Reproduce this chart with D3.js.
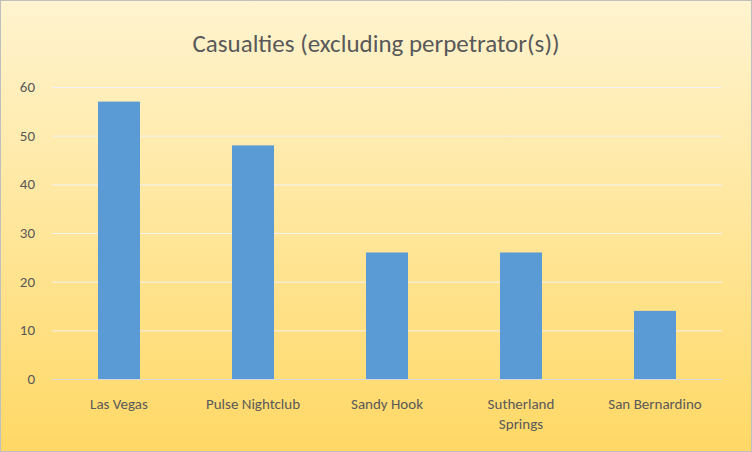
<!DOCTYPE html>
<html>
<head>
<meta charset="utf-8">
<script src="https://cdn.jsdelivr.net/npm/d3@7"></script>
<style>
body { margin: 0; }
svg { display: block; font-family: Carlito, "Liberation Sans", sans-serif; }
</style>
</head>
<body>
<svg id="chart" width="752" height="452"></svg>
<script>
var categories = ['Las Vegas', 'Pulse Nightclub', 'Sandy Hook', 'Sutherland Springs', 'San Bernardino'];
var casualties = [57, 48, 26, 26, 14];
var yTicks = [0, 10, 20, 30, 40, 50, 60];

var svg = d3.select('#chart');

var grad = svg.append('defs').append('linearGradient')
	.attr('id', 'bg').attr('x1', 0).attr('y1', 0).attr('x2', 0).attr('y2', 1);
grad.append('stop').attr('offset', '0%').attr('stop-color', '#FFF4D0');
grad.append('stop').attr('offset', '100%').attr('stop-color', '#FFD865');

svg.append('rect')
	.attr('x', 0.5).attr('y', 0.5).attr('width', 751).attr('height', 451)
	.attr('fill', 'url(#bg)').attr('stroke', '#BFBFBF');

svg.append('text')
	.attr('x', 376).attr('y', 52)
	.attr('text-anchor', 'middle')
	.attr('font-size', 25).attr('fill', '#595959')
	.text('Casualties (excluding perpetrator(s))');

var x = d3.scaleBand().domain(categories).range([52, 722]).paddingInner(0.685).paddingOuter(0.34);
var xBand = d3.scaleBand().domain(categories).range([52, 722]);
var y = d3.scaleLinear().domain([0, 60]).range([379, 87]);

// gridlines
svg.append('g').selectAll('line').data(yTicks).join('line')
	.attr('x1', 52).attr('x2', 722)
	.attr('y1', function(d) { return y(d) + 0.5; })
	.attr('y2', function(d) { return y(d) + 0.5; })
	.attr('stroke', function(d) { return d === 0 ? '#D9D9D9' : '#F2F2F2'; })
	.attr('stroke-width', 1);

// y labels
svg.append('g').selectAll('text').data(yTicks).join('text')
	.attr('x', 35).attr('y', function(d) { return y(d) + 5; })
	.attr('text-anchor', 'end')
	.attr('font-size', 15).attr('fill', '#595959')
	.text(function(d) { return d; });

// bars
svg.append('g').selectAll('rect').data(casualties).join('rect')
	.attr('x', function(d, i) { return xBand(categories[i]) + xBand.bandwidth() / 2 - 21; })
	.attr('width', 42)
	.attr('y', function(d) { return y(d); })
	.attr('height', function(d) { return y(0) - y(d); })
	.attr('fill', '#5B9BD5');

// x labels
var labels = svg.append('g').selectAll('text').data(categories).join('text')
	.attr('text-anchor', 'middle')
	.attr('font-size', 15).attr('fill', '#595959')
	.attr('x', function(d) { return xBand(d) + xBand.bandwidth() / 2; })
	.attr('y', 409);
labels.each(function(d) {
	var t = d3.select(this);
	var words = d === 'Sutherland Springs' ? ['Sutherland', 'Springs'] : [d];
	words.forEach(function(w, i) {
		t.append('tspan')
			.attr('x', xBand(d) + xBand.bandwidth() / 2)
			.attr('dy', i === 0 ? 0 : 20)
			.text(w);
	});
});
</script>
</body>
</html>
